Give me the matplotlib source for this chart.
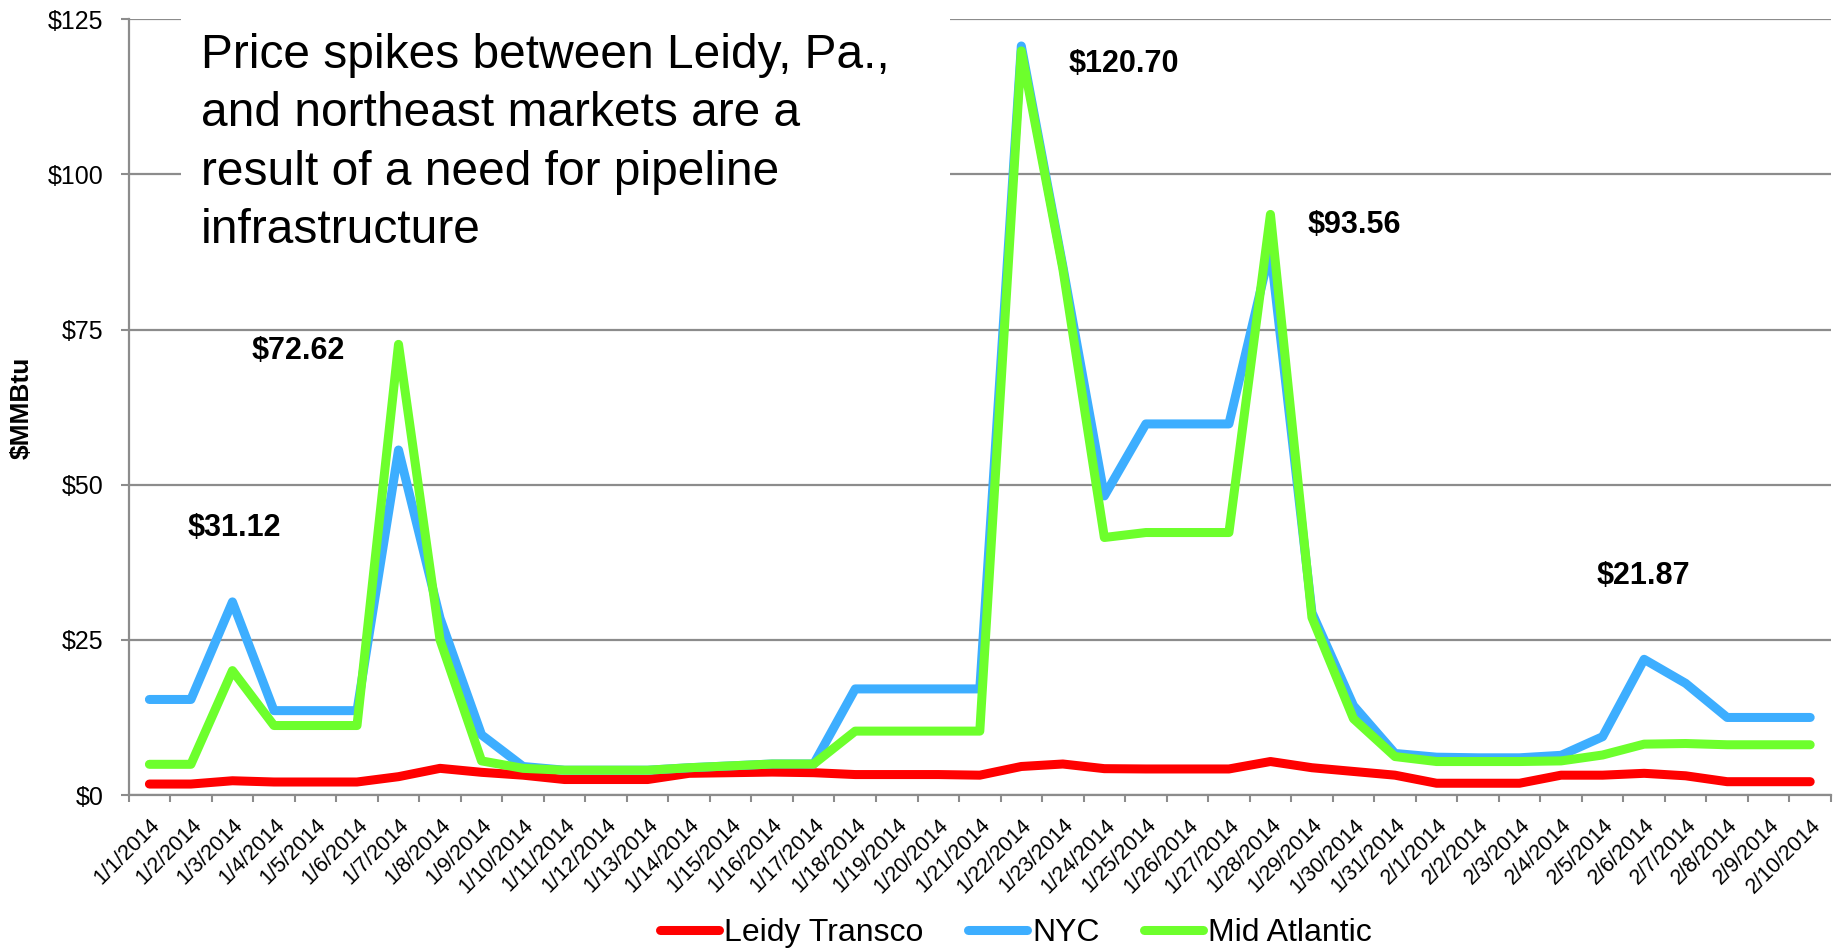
"""Leidy / NYC / Mid Atlantic gas price spikes, Jan-Feb 2014."""

import matplotlib

matplotlib.use("Agg")
import matplotlib.pyplot as plt
from matplotlib.patches import Rectangle
from matplotlib.ticker import FixedLocator

DPI = 100
FONT = ["Liberation Sans", "Arial", "DejaVu Sans"]
GRID_COLOR = "#8c8c8c"

DATES = [f"1/{d}/2014" for d in range(1, 32)] + [f"2/{d}/2014" for d in range(1, 11)]

LEIDY = [
    1.77, 1.77, 2.3, 2.1, 2.1, 2.1, 2.96, 4.3, 3.66, 3.2,
    2.5, 2.5, 2.5, 3.5, 3.6, 3.7, 3.6, 3.3, 3.3, 3.3, 3.2,
    4.6, 5.0, 4.25, 4.2, 4.2, 4.2, 5.4, 4.4, 3.8, 3.2,
    1.9, 1.9, 1.9, 3.2, 3.2, 3.5, 3.1, 2.15, 2.15, 2.15,
]
NYC = [
    15.4, 15.4, 31.12, 13.6, 13.6, 13.6, 55.6, 28.5, 9.7, 4.6,
    4.0, 4.0, 4.0, 4.4, 4.7, 5.0, 5.0, 17.1, 17.1, 17.1, 17.1,
    120.7, 85.2, 48.2, 59.8, 59.8, 59.8, 88.0, 29.4, 14.4, 6.7,
    6.1, 6.0, 6.0, 6.4, 9.4, 21.87, 18.0, 12.5, 12.5, 12.5,
]
MID_ATLANTIC = [
    4.95, 4.95, 20.05, 11.2, 11.2, 11.2, 72.62, 25.0, 5.5, 4.3,
    4.0, 4.0, 4.0, 4.4, 4.7, 5.0, 5.0, 10.3, 10.3, 10.3, 10.3,
    119.9, 84.8, 41.5, 42.3, 42.3, 42.3, 93.56, 28.6, 12.3, 6.2,
    5.4, 5.4, 5.4, 5.5, 6.45, 8.2, 8.3, 8.1, 8.1, 8.1,
]

SERIES = [
    ("Leidy Transco", LEIDY, "#ff0000"),
    ("NYC", NYC, "#3daeff"),
    ("Mid Atlantic", MID_ATLANTIC, "#6dff2c"),
]

# (text, category position, value) for the bold spike callouts
CALLOUTS = [
    ("$31.12", 2.04, 43.0),
    ("$72.62", 3.58, 71.5),
    ("$120.70", 23.46, 117.8),
    ("$93.56", 29.03, 91.9),
    ("$21.87", 35.97, 35.3),
]
Y_TICKS = [0, 25, 50, 75, 100, 125]
NOTE = ("Price spikes between Leidy, Pa.,\nand northeast markets are a\n"
        "result of a need for pipeline\ninfrastructure")


def main() -> None:
    plt.rcParams["font.family"] = FONT
    fig = plt.figure(figsize=(18.35, 9.51), dpi=DPI)
    ax = fig.add_axes([0.0701, 0.164, 0.9277, 0.8157])

    x = list(range(len(DATES)))
    for label, values, color in SERIES:
        ax.plot(x, values, color=color, linewidth=6.5, label=label,
                solid_capstyle="round", solid_joinstyle="round", zorder=3)

    ax.set_xlim(-0.5, len(DATES) - 0.5)
    ax.set_ylim(0, 125)

    # y axis
    ax.set_yticks(Y_TICKS)
    ax.set_yticklabels([f"${v}" for v in Y_TICKS], fontsize=18)
    ax.tick_params(axis="y", length=6, width=1.5, color=GRID_COLOR, pad=12)
    ax.grid(axis="y", color=GRID_COLOR, linewidth=1.6, zorder=0)
    ax.set_axisbelow(True)

    # x axis: labels at category centres, ticks on category boundaries
    ax.set_xticks(x)
    ax.set_xticklabels(DATES, rotation=45, ha="right", va="top",
                       rotation_mode="anchor", fontsize=15.5)
    ax.tick_params(axis="x", which="major", length=0, pad=14)
    ax.xaxis.set_minor_locator(FixedLocator([i - 0.5 for i in range(len(DATES) + 1)]))
    ax.tick_params(axis="x", which="minor", length=5, width=1.5, color=GRID_COLOR)

    for side in ("top", "right"):
        ax.spines[side].set_visible(False)
    for side in ("left", "bottom"):
        ax.spines[side].set_color(GRID_COLOR)
        ax.spines[side].set_linewidth(1.6)

    for text, xpos, ypos in CALLOUTS:
        ax.text(xpos, ypos, text, fontsize=22, fontweight="bold",
                ha="center", va="center", zorder=5)

    # white note box that covers the upper gridlines
    fig.add_artist(Rectangle((181 / 1835, 1 - 255 / 951), (950 - 181) / 1835, 255 / 951,
                             transform=fig.transFigure, facecolor="white",
                             edgecolor="none", zorder=4))
    fig.text(201 / 1835, 1 - 33 / 951, NOTE, fontsize=34.5, ha="left", va="top",
             linespacing=1.38, zorder=5)

    fig.text(22 / 1835, 1 - 408 / 951, "$MMBtu", rotation=90, fontsize=19,
             fontweight="bold", ha="center", va="center")

    fig.legend(loc="center", bbox_to_anchor=(1016 / 1835, 18 / 951), ncol=3,
               frameon=False, fontsize=23, handlelength=1.85, handletextpad=0.15,
               columnspacing=1.4, borderaxespad=0)

    fig.savefig("out.png", dpi=DPI)
    plt.close(fig)


if __name__ == "__main__":
    main()
